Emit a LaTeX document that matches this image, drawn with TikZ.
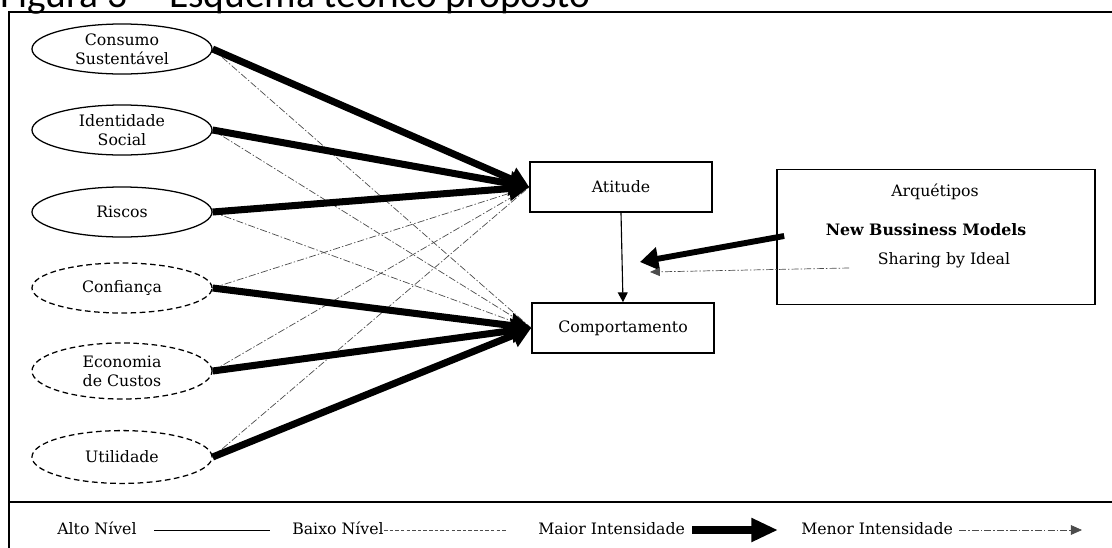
\documentclass[tikz,border=0pt]{standalone}
\usepackage{fontspec}
\setmainfont{DejaVu Serif}
\newfontfamily\legenda{Carlito}
\usetikzlibrary{positioning,arrows.meta,shapes.geometric,calc}

\begin{document}
\begin{tikzpicture}[x=0.025cm,y=-0.025cm,
    every node/.style={font=\fontsize{11.2}{13.5}\selectfont, align=center},
    fator/.style={ellipse, draw, line width=0.9pt, minimum width=4.5cm,
      minimum height=1.25cm, inner sep=0pt},
    fatorT/.style={fator, dash pattern=on 4pt off 2.5pt},
    caixa/.style={rectangle, draw, line width=1.1pt, minimum width=4.55cm,
      minimum height=1.25cm},
    forte/.style={-{Triangle[length=14pt,width=17pt]}, line width=5pt},
    fraco/.style={gray!60!black, line width=0.5pt,
      dash pattern=on 5pt off 1.5pt on 1pt off 1.5pt},
    txt/.style={anchor=base west, inner sep=0pt}]
  \useasboundingbox (0,0) rectangle (1112,547);

  % moldura e titulo
  \draw[line width=1.1pt] (9,600) -- (9,12) -- (1200,12);
  \draw[line width=1.1pt] (9,502) -- (1200,502);
  \node[txt, font=\legenda\fontsize{28}{32}\selectfont] (titulo) at (0,7)
    {Figura 3 -- Esquema te\'orico proposto};

  % fatores
  \node[fator] (cons) at (122,49)  {Consumo\\Sustent\'avel};
  \node[fator] (iden) at (122,130) {Identidade\\Social};
  \node[fator] (risc) at (122,212) {Riscos};
  \node[fatorT] (conf) at (122,288) {Confian\c{c}a};
  \node[fatorT, minimum height=1.4cm] (econ) at (122,371) {Economia\\de Custos};
  \node[fatorT, minimum height=1.32cm] (util) at (122,457) {Utilidade};

  % construtos
  \node[caixa] (atit) at (621,187) {Atitude};
  \node[caixa] (comp) at (623,328) {Comportamento};

  % arquetipos
  \node[caixa, minimum width=7.95cm, minimum height=3.375cm] (arq) at (936,237) {};
  \node (arqT) at (935,192) {Arqu\'etipos};
  \node[font=\fontsize{11.2}{13.5}\selectfont\bfseries] (nbm) at (926,230) {New Bussiness Models};
  \node (shar) at (944,260) {Sharing by Ideal};
  \coordinate (alvoF) at (640,262);
  \coordinate (alvoM) at (650,272);

  % ligacoes fracas
  \foreach \f in {cons,iden,risc}
    \draw[fraco] (\f.east) -- (comp.west);
  \foreach \f in {conf,econ,util}
    \draw[fraco] (\f.east) -- (atit.west);

  % ligacoes fortes
  \foreach \f in {cons,iden,risc}
    \draw[forte] (\f.east) -- (atit.west);
  \foreach \f in {conf,econ,util}
    \draw[forte] (\f.east) -- (comp.west);

  \draw[-{Triangle[length=7pt,width=7pt]}, line width=0.8pt] (atit.south) -- (comp.north);
  \draw[-{Triangle[length=13pt,width=16pt]}, line width=4.2pt] ($(arq.west)+(8,-1)$) -- (alvoF);
  \draw[fraco, -{Triangle[length=7pt,width=6pt]}] ($(arq.west)+(73,31)$) -- (alvoM);

  % legenda
  \node[txt] (alto)  at (57,534)  {Alto N\'ivel};
  \node[txt] (baixo) at (292,534) {Baixo N\'ivel};
  \node[txt] (maior) at (538,534) {Maior Intensidade};
  \node[txt] (menor) at (801,534) {Menor Intensidade};
  \coordinate (altoF)  at (270,530);
  \coordinate (baixoF) at (507,530);
  \coordinate (maiorF) at (778,530);
  \coordinate (menorF) at (1082,530);
  \draw[line width=0.7pt] (154,530) -- (altoF);
  \draw[gray!60!black, line width=0.5pt, dash pattern=on 2.5pt off 1.5pt] (384,530) -- (baixoF);
  \draw[-{Triangle[length=19pt,width=16pt]}, line width=5pt] (692,530) -- (maiorF);
  \draw[fraco, -{Triangle[length=8pt,width=7pt]}] (959,530) -- (menorF);
\end{tikzpicture}
\end{document}
